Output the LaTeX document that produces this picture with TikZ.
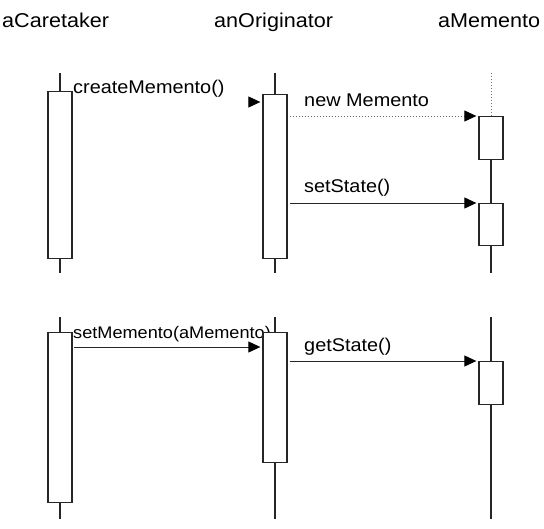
\documentclass[tikz,border=0pt]{standalone}
\usepackage{fontspec}
\setmainfont{Liberation Sans}[FakeStretch=1.08]
\usetikzlibrary{arrows.meta}
\tikzset{
  title/.style={anchor=base west,inner sep=0pt,font=\fontsize{20}{24}\selectfont},
  msg/.style={anchor=base west,inner sep=0pt,font=\fontsize{18.4}{22}\selectfont},
  actbox/.style={draw=black!85,fill=white,line width=1.3pt,minimum width=24pt,inner sep=0pt,anchor=north},
  life/.style={draw=black!85,line width=1.3pt},
  lifedot/.style={draw=black!55,line width=1pt,dotted},
  call/.style={draw=black!85,line width=1pt,shorten >=2pt,-{Triangle[length=12pt,width=11pt,color=black]}},
  calldot/.style={call,draw=black!60,dotted},
  callhidden/.style={call,draw=white}
}
\begin{document}
\begin{tikzpicture}[x=1pt,y=-1pt]
\useasboundingbox[fill=white] (0,0) rectangle (544,528);
% titles
\node[title] (tc) at (2,27) {aCaretaker};
\node[title] (to) at (214,27) {anOriginator};
\node[title] (tm) at (438,27) {aMemento};
% labels
\node[msg] (l1) at (73,93) {createMemento()};
\node[msg] (l2) at (304,106) {new Memento};
\node[msg] (l3) at (304,192) {setState()};
\node[msg,font=\fontsize{16.8}{20}\selectfont] (l4) at (73,338) {setMemento(aMemento)};
\node[msg] (l5) at (304,351) {getState()};
% lifeline end points
\coordinate (c1t) at (60,73);  \coordinate (c1b) at (60,273);
\coordinate (o1t) at (275,73); \coordinate (o1b) at (275,273);
\coordinate (m1t) at (491,73); \coordinate (m1b) at (491,273);
\coordinate (c2t) at (60,317);  \coordinate (c2b) at (60,519);
\coordinate (o2t) at (275,317); \coordinate (o2b) at (275,519);
\coordinate (m2t) at (491,317); \coordinate (m2b) at (491,519);
% lifelines (drawn below boxes)
\draw[life] (c1t) -- (c1b);
\draw[life] (o1t) -- (o1b);
\draw[lifedot] (m1t) -- (491,116);
\draw[life] (491,116) -- (m1b);
\draw[life] (c2t) -- (c2b);
\draw[life] (o2t) -- (o2b);
\draw[life] (m2t) -- (m2b);
% activation boxes
\node[actbox,minimum height=167pt] (cb1) at (60,91) {};
\node[actbox,minimum height=164pt] (ob1) at (275,94) {};
\node[actbox,minimum height=43pt] (mb1) at (491,116) {};
\node[actbox,minimum height=42pt] (mb2) at (491,203) {};
\node[actbox,minimum height=170pt] (cb2) at (60,332) {};
\node[actbox,minimum height=130pt] (ob2) at (275,332) {};
\node[actbox,minimum height=43pt] (mb3) at (491,361) {};
% messages
\draw[callhidden] ([yshift=-11pt]cb1.north east) -- ([yshift=-8pt]ob1.north west);
\draw[calldot] ([xshift=2pt,yshift=-22pt]ob1.north east) -- (mb1.north west);
\draw[call] ([xshift=2pt,yshift=-109pt]ob1.north east) -- (mb2.north west);
\draw[call] ([xshift=1pt,yshift=-15pt]cb2.north east) -- ([yshift=-15pt]ob2.north west);
\draw[call] ([xshift=2pt,yshift=-29pt]ob2.north east) -- (mb3.north west);
\end{tikzpicture}
\end{document}
